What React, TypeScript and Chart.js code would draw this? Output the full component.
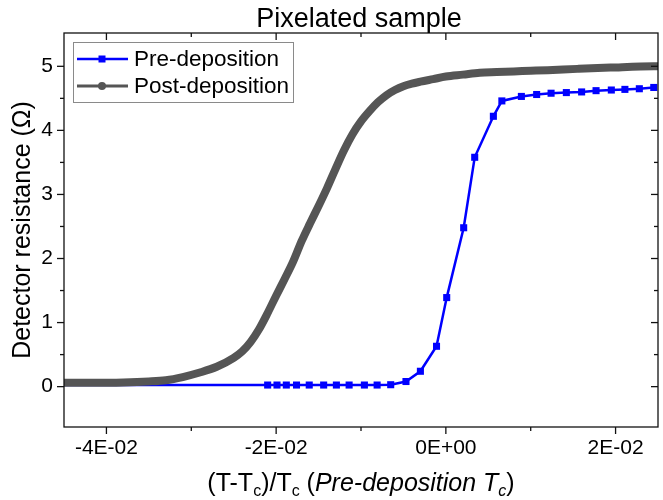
import React, { useEffect, useRef } from 'react';
import { Chart, registerables } from 'chart.js';

Chart.register(...registerables);

// ---- data ----
const chartTitle = 'Pixelated sample';
const seriesNames = ['Pre-deposition', 'Post-deposition'];
const yTitle = 'Detector resistance (\u03A9)';
const xTitleRuns = [
  { t: '(T-T', sub: false, it: false },
  { t: 'c', sub: true, it: false },
  { t: ')/T', sub: false, it: false },
  { t: 'c', sub: true, it: false },
  { t: ' (', sub: false, it: false },
  { t: 'Pre-deposition T', sub: false, it: true },
  { t: 'c', sub: true, it: true },
  { t: ')', sub: false, it: false },
];

const preX = [-0.05, -0.021, -0.0199, -0.0188, -0.0176, -0.0161, -0.0144, -0.0129, -0.0114, -0.0096, -0.0081, -0.0065, -0.0047, -0.003, -0.0011, 0.0001, 0.0021, 0.0034, 0.0056, 0.0066, 0.0089, 0.0107, 0.0124, 0.0142, 0.016, 0.0177, 0.0195, 0.0211, 0.0228, 0.0245];
const preY = [0.025, 0.025, 0.025, 0.025, 0.025, 0.025, 0.025, 0.025, 0.025, 0.025, 0.025, 0.03, 0.08, 0.24, 0.63, 1.39, 2.48, 3.58, 4.22, 4.46, 4.53, 4.56, 4.58, 4.59, 4.6, 4.62, 4.63, 4.64, 4.65, 4.67];

const postX = [-0.046, -0.042, -0.038, -0.035, -0.033, -0.031, -0.029, -0.027, -0.025, -0.024, -0.023, -0.022, -0.021, -0.02, -0.019, -0.018, -0.017, -0.016, -0.015, -0.014, -0.013, -0.012, -0.011, -0.01, -0.009, -0.008, -0.007, -0.006, -0.005, -0.004, -0.003, -0.0015, 0, 0.002, 0.004, 0.006, 0.008, 0.01, 0.012, 0.0155, 0.0194, 0.0245, 0.026];
const postY = [0.06, 0.06, 0.065, 0.08, 0.1, 0.15, 0.22, 0.31, 0.45, 0.55, 0.7, 0.9, 1.15, 1.42, 1.68, 1.95, 2.27, 2.55, 2.82, 3.1, 3.4, 3.69, 3.94, 4.14, 4.3, 4.44, 4.55, 4.63, 4.69, 4.73, 4.76, 4.8, 4.84, 4.87, 4.9, 4.91, 4.92, 4.93, 4.94, 4.96, 4.98, 5.0, 5.0];

const xMin = -0.045;
const xMax = 0.025;
const yMin = -0.63;
const yMax = 5.52;
const xMajorTicks = [-0.04, -0.02, 0, 0.02];
const xMinorTicks = [-0.03, -0.01, 0.01];
const yMajorTicks = [0, 1, 2, 3, 4, 5];
const yMinorTicks = [0.5, 1.5, 2.5, 3.5, 4.5];

const FONT = "'Liberation Sans', Arial, sans-serif";
const preColor = '#0000ff';
const postColor = '#555555';

function sci(v: number): string {
  if (Math.abs(v) < 1e-12) return '0E+00';
  const [m, e] = v.toExponential(0).split('e');
  const ei = parseInt(e, 10);
  return m + 'E' + (ei < 0 ? '-' : '+') + String(Math.abs(ei)).padStart(2, '0');
}

const decor = {
  id: 'decor',
  afterDatasetsDraw(chart: any) {
    const { ctx, chartArea: a, scales } = chart;
    const xs = scales.x;
    const ys = scales.y;
    ctx.save();
    ctx.strokeStyle = '#111';
    ctx.lineWidth = 1.3;
    ctx.strokeRect(a.left, a.top, a.right - a.left, a.bottom - a.top);
    const seg = (x1: number, y1: number, x2: number, y2: number) => {
      ctx.beginPath();
      ctx.moveTo(x1, y1);
      ctx.lineTo(x2, y2);
      ctx.stroke();
    };
    xMajorTicks.forEach((v) => {
      const p = xs.getPixelForValue(v);
      seg(p, a.bottom, p, a.bottom + 7);
      seg(p, a.top, p, a.top + 7);
    });
    xMinorTicks.forEach((v) => {
      const p = xs.getPixelForValue(v);
      seg(p, a.bottom, p, a.bottom + 4);
      seg(p, a.top, p, a.top + 4);
    });
    yMajorTicks.forEach((v) => {
      const p = ys.getPixelForValue(v);
      seg(a.left - 7, p, a.left, p);
      seg(a.right, p, a.right - 7, p);
    });
    yMinorTicks.forEach((v) => {
      const p = ys.getPixelForValue(v);
      seg(a.left - 4, p, a.left, p);
      seg(a.right, p, a.right - 4, p);
    });

    // title
    ctx.fillStyle = '#000';
    ctx.textAlign = 'center';
    ctx.textBaseline = 'alphabetic';
    ctx.font = `27px ${FONT}`;
    ctx.fillText(chartTitle, (a.left + a.right) / 2 - 2, 27);

    // y title
    ctx.save();
    ctx.translate(23, (a.top + a.bottom) / 2);
    ctx.rotate(-Math.PI / 2);
    ctx.textBaseline = 'middle';
    ctx.font = `25px ${FONT}`;
    ctx.fillText(yTitle, 0, 0);
    ctx.restore();

    // x title with subscripts
    const big = 25;
    const small = 16;
    const fontFor = (r: any) => `${r.it ? 'italic ' : ''}${r.sub ? small : big}px ${FONT}`;
    let total = 0;
    xTitleRuns.forEach((r) => {
      ctx.font = fontFor(r);
      total += ctx.measureText(r.t).width;
    });
    let cx = (a.left + a.right) / 2 - total / 2;
    const base = 491;
    ctx.textAlign = 'left';
    ctx.textBaseline = 'alphabetic';
    xTitleRuns.forEach((r) => {
      ctx.font = fontFor(r);
      ctx.fillText(r.t, cx, r.sub ? base + 5 : base);
      cx += ctx.measureText(r.t).width;
    });

    // legend
    const lx = 73, ly = 42, lw = 220, lh = 60;
    ctx.fillStyle = '#fff';
    ctx.fillRect(lx, ly, lw, lh);
    ctx.strokeStyle = '#8a8a8a';
    ctx.lineWidth = 1;
    ctx.strokeRect(lx + 0.5, ly + 0.5, lw, lh);
    const rows = [
      { y: ly + 17, color: preColor, lw: 2.5, marker: 'rect' },
      { y: ly + 44, color: postColor, lw: 3, marker: 'circle' },
    ];
    rows.forEach((row, i) => {
      ctx.strokeStyle = row.color;
      ctx.fillStyle = row.color;
      ctx.lineWidth = row.lw;
      seg(77, row.y, 128, row.y);
      if (row.marker === 'rect') {
        ctx.fillRect(102 - 3.5, row.y - 3.5, 7, 7);
      } else {
        ctx.beginPath();
        ctx.arc(102, row.y, 4, 0, Math.PI * 2);
        ctx.fill();
      }
      ctx.fillStyle = '#000';
      ctx.font = `22.5px ${FONT}`;
      ctx.textAlign = 'left';
      ctx.textBaseline = 'middle';
      ctx.fillText(seriesNames[i], 134, row.y + 1);
    });
    ctx.restore();
  },
};

export default function App() {
  const ref = useRef<HTMLCanvasElement | null>(null);
  useEffect(() => {
    const canvas = ref.current;
    if (!canvas) return;
    const chart = new Chart(canvas, {
      type: 'scatter',
      data: {
        datasets: [
          {
            label: seriesNames[0],
            data: preX.map((x, i) => ({ x, y: preY[i] })),
            showLine: true,
            borderColor: preColor,
            backgroundColor: preColor,
            borderWidth: 2.5,
            pointStyle: 'rect',
            pointRadius: (c: any) => (c.raw && c.raw.x < xMin ? 0 : 5),
            pointBorderWidth: 0,
            clip: 0,
            order: 2,
          },
          {
            label: seriesNames[1],
            data: postX.map((x, i) => ({ x, y: postY[i] })),
            showLine: true,
            borderColor: postColor,
            backgroundColor: postColor,
            borderWidth: 8,
            borderCapStyle: 'round',
            borderJoinStyle: 'round',
            cubicInterpolationMode: 'monotone',
            pointRadius: 0,
            clip: 0,
            order: 1,
          },
        ] as any,
      },
      options: {
        animation: false,
        responsive: false,
        maintainAspectRatio: false,
        layout: { padding: { left: 0, top: 33, right: 4, bottom: 0 } },
        plugins: {
          legend: { display: false },
          title: { display: false },
          tooltip: { enabled: false },
        },
        scales: {
          x: {
            type: 'linear',
            min: xMin,
            max: xMax,
            grid: { display: false, drawTicks: false },
            border: { display: false },
            afterBuildTicks: (s: any) => {
              s.ticks = xMajorTicks.map((v) => ({ value: v }));
            },
            afterFit: (s: any) => {
              s.height = 73;
            },
            ticks: {
              autoSkip: false,
              maxRotation: 0,
              padding: 9,
              color: '#000',
              font: { family: FONT, size: 21 },
              callback: (v: any) => sci(Number(v)),
            },
          },
          y: {
            type: 'linear',
            min: yMin,
            max: yMax,
            grid: { display: false, drawTicks: false },
            border: { display: false },
            afterBuildTicks: (s: any) => {
              s.ticks = yMajorTicks.map((v) => ({ value: v }));
            },
            afterFit: (s: any) => {
              s.width = 64;
            },
            ticks: {
              autoSkip: false,
              padding: 11,
              color: '#000',
              font: { family: FONT, size: 21 },
              callback: (v: any) => String(v),
            },
          },
        },
      } as any,
      plugins: [decor],
    });
    return () => chart.destroy();
  }, []);
  return (
    <div style={{ position: 'fixed', left: 0, top: 0, width: 663, height: 500, background: '#fff' }}>
      <canvas ref={ref} width={663} height={500} style={{ display: 'block' }} />
    </div>
  );
}
